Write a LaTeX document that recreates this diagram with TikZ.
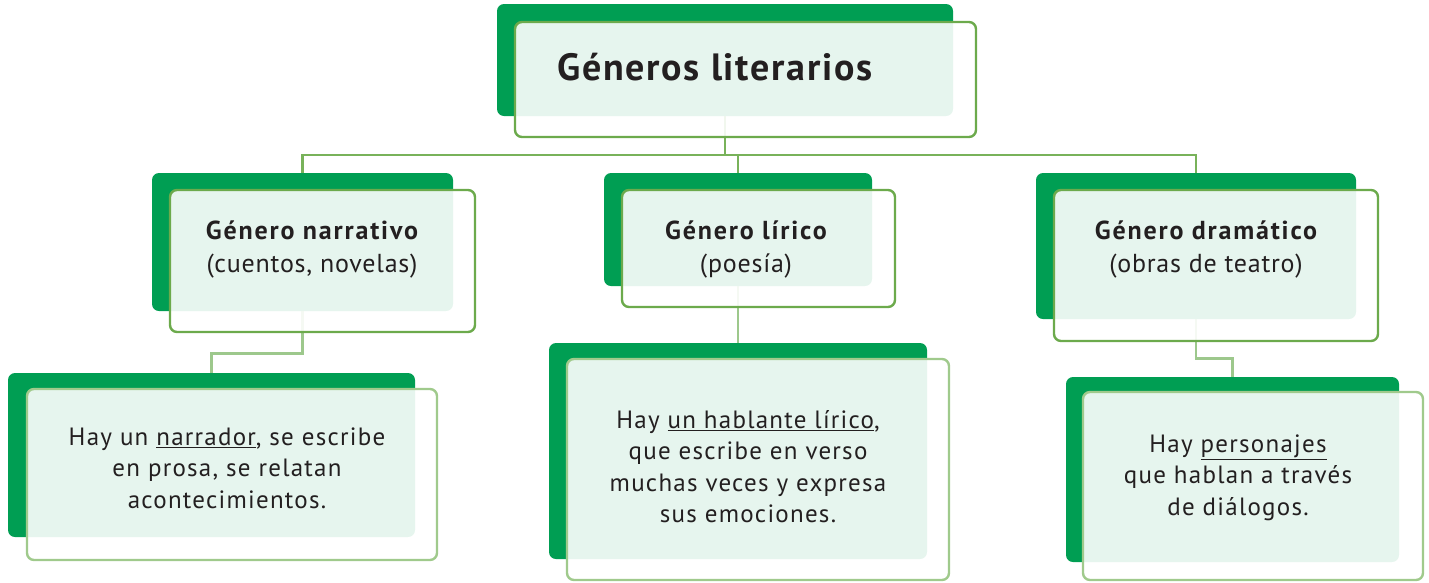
\documentclass[tikz,border=0pt]{standalone}
\usepackage{fontspec}
\setmainfont{PT Sans}
\pgfdeclarelayer{bg}
\pgfsetlayers{bg,main}
\definecolor{dkgreen}{RGB}{0,158,83}
\definecolor{outlA}{RGB}{108,170,76}
\definecolor{outlB}{RGB}{160,202,140}
\definecolor{connA}{RGB}{120,178,90}
\definecolor{connB}{RGB}{157,200,140}
\definecolor{txt}{RGB}{35,31,32}
\newcommand\hdtext[1]{{\bfseries\addfontfeatures{LetterSpace=7}#1}}
\tikzset{
  darkbox/.style={rectangle, fill=dkgreen, draw=none, rounded corners=7pt, inner sep=0pt},
  framebox/.style={rectangle, fill=white, fill opacity=0.9, draw=outlA, line width=2.4pt, rounded corners=7pt, inner sep=0pt},
  framelight/.style={framebox, draw=outlB},
  connA/.style={draw=connA, line width=2.6pt},
  connB/.style={draw=connB, line width=2.6pt},
  ttl/.style={text=txt, font=\bfseries\fontsize{38}{40}\selectfont\addfontfeatures{LetterSpace=4.5}, inner sep=0pt},
  lvl/.style={text=txt, align=center, font=\fontsize{26}{33}\selectfont\addfontfeatures{LetterSpace=3}, inner sep=0pt},
  body/.style={text=txt, align=center, font=\fontsize{25}{31.5}\selectfont\addfontfeatures{LetterSpace=5}, inner sep=0pt}
}
\begin{document}
\begin{tikzpicture}[x=1pt,y=-1pt]
\useasboundingbox (0,0) rectangle (1429,582);
% title
\node[darkbox, minimum width=456pt, minimum height=112pt] (tb) at (725,60) {};
\node[framebox, minimum width=461pt, minimum height=115pt] (tf) at (745.5,79.5) {};
\node[ttl, anchor=base west] (tt) at (557,80) {Géneros literarios};
% level 2
\node[darkbox, minimum width=301pt, minimum height=138pt] (nb) at (302.5,242) {};
\node[framebox, minimum width=305pt, minimum height=142pt] (nf) at (322.5,261) {};
\node[lvl] (nt) at (312,249) {\hdtext{Género narrativo}\\(cuentos, novelas)};
\node[darkbox, minimum width=268pt, minimum height=113pt] (lb) at (738,229.5) {};
\node[framebox, minimum width=273pt, minimum height=117pt] (lf) at (758.5,248.5) {};
\node[lvl] (lt) at (746,249) {\hdtext{Género lírico}\\(poesía)};
\node[darkbox, minimum width=320pt, minimum height=146pt] (db) at (1196,246) {};
\node[framebox, minimum width=324pt, minimum height=151pt] (df) at (1216,265.5) {};
\node[lvl] (dt) at (1206,249) {\hdtext{Género dramático}\\(obras de teatro)};
% level 3
\node[darkbox, minimum width=407pt, minimum height=164pt] (nb3) at (211.5,455) {};
\node[framelight, minimum width=410pt, minimum height=171pt] (nf3) at (232,474.5) {};
\node[body] (nt3) at (227,468) {Hay un \underline{narrador}, se escribe\\en prosa, se relatan\\acontecimientos.};
\node[darkbox, minimum width=378pt, minimum height=216pt] (lb3) at (738,451) {};
\node[framelight, minimum width=382pt, minimum height=221pt] (lf3) at (758,469.5) {};
\node[body] (lt3) at (748,466.5) {Hay \underline{un hablante lírico},\\que escribe en verso\\muchas veces y expresa\\sus emociones.};
\node[darkbox, minimum width=333pt, minimum height=185pt] (db3) at (1232.5,469.5) {};
\node[framelight, minimum width=340pt, minimum height=188pt] (df3) at (1253,486) {};
\node[body] (dt3) at (1238,477.5) {Hay \underline{personajes}\\que hablan a través\\de diálogos.};
% connectors
\coordinate (bus) at (725,155);
\begin{pgfonlayer}{bg}
\draw[connA] (tb.south) -- (bus);
\draw[connA] (bus) -| (nb.north);
\draw[connA] (bus) -| (lb.north);
\draw[connA] (bus) -| (db.north);
\draw[connB] (nb.south) -- ++(0,42) -| (nb3.north);
\draw[connB] (lb.south) -- (lb3.north);
\draw[connB] (db.south) -- ++(0,39) -| (db3.north);
\end{pgfonlayer}
\end{tikzpicture}
\end{document}
